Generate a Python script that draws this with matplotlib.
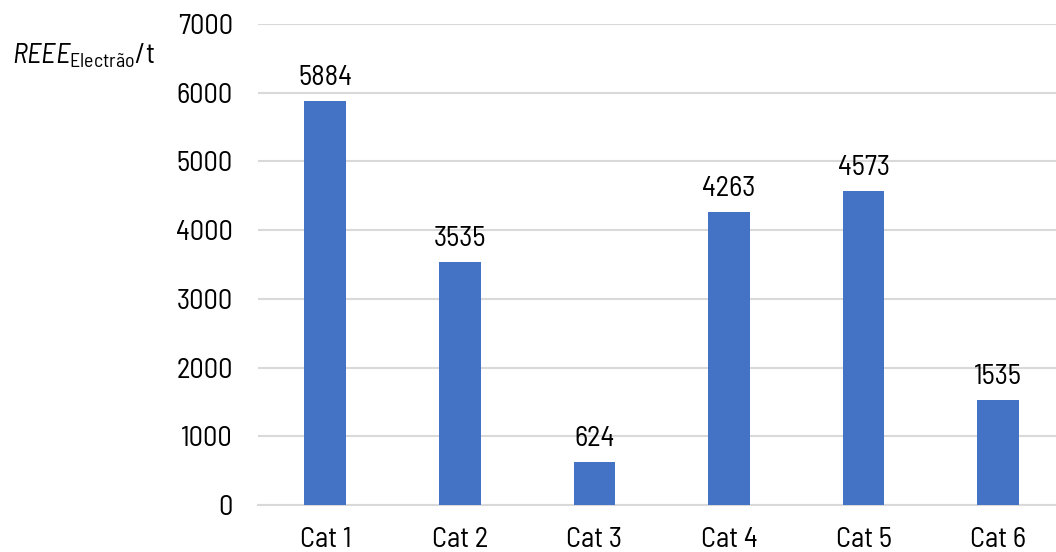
import matplotlib
matplotlib.use("Agg")
import matplotlib.pyplot as plt

categories = ["Cat 1", "Cat 2", "Cat 3", "Cat 4", "Cat 5", "Cat 6"]
values = [5884, 3535, 624, 4263, 4573, 1535]
y_ticks = [0, 1000, 2000, 3000, 4000, 5000, 6000, 7000]

family = "Barlow Semi Condensed"
plt.rcParams["font.family"] = [family, "DejaVu Sans"]
plt.rcParams["mathtext.fontset"] = "custom"
plt.rcParams["mathtext.rm"] = family
plt.rcParams["mathtext.it"] = family + ":italic"

FS = 20.5

fig = plt.figure(figsize=(10.56, 5.52), dpi=100)
ax = fig.add_axes([258 / 1056, 1 - 505 / 552, 798 / 1056, (505 - 24) / 552])

x = range(len(categories))
ax.bar(x, values, width=0.31, color="#4472C4", zorder=3)

for xi, v in zip(x, values):
    ax.annotate(f"{v}", (xi, v), xytext=(0, 7), textcoords="offset points",
                ha="center", va="bottom", fontsize=FS, color="#000000")

ax.set_ylim(0, 7000)
ax.set_xlim(-0.5, 5.43)
ax.set_yticks(y_ticks)
ax.set_xticks(list(x))
ax.set_xticklabels(categories)
ax.tick_params(axis="both", length=0, labelsize=FS, colors="#000000")
ax.tick_params(axis="y", pad=18)
ax.tick_params(axis="x", pad=16)
ax.yaxis.grid(True, color="#d9d9d9", linewidth=1.5, zorder=0)
for s in ["top", "right", "left"]:
    ax.spines[s].set_visible(False)
ax.spines["bottom"].set_color("#d9d9d9")
ax.spines["bottom"].set_linewidth(1.5)

fig.text(12 / 1056, 1 - 56 / 552, r"$\mathit{REEE}_{\mathrm{Electrão}}$/t",
         fontsize=FS, ha="left", va="center")

fig.savefig("out.png", dpi=100)
